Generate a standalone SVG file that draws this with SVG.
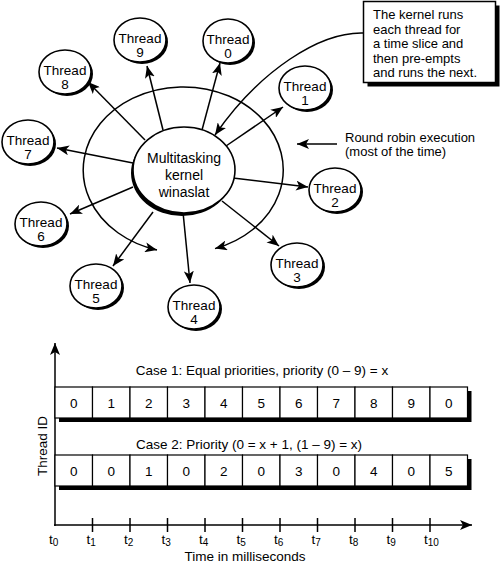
<svg xmlns="http://www.w3.org/2000/svg" width="500" height="564" viewBox="0 0 500 564">
<defs>
<marker id="ah" viewBox="0 0 12 10" refX="12" refY="5" markerWidth="12" markerHeight="10" markerUnits="userSpaceOnUse" orient="auto-start-reverse">
<path d="M0,0 L12,5 L0,10 L3,5 z" fill="#000"/>
</marker>
</defs>
<style>
text{font-family:"Liberation Sans",Arial,sans-serif;fill:#000}
.t{font-size:13.5px;text-anchor:middle}
.k{font-size:14px;text-anchor:middle}
.c{font-size:13px}
.sh{fill:#000}
.nd{fill:#fff;stroke:#000;stroke-width:1.6}
.ln{fill:none;stroke:#000;stroke-width:1.5}
.ar{fill:none;stroke:#000;stroke-width:1.5;marker-end:url(#ah)}
.cell{fill:#fff;stroke:#000;stroke-width:1.2}
.sub{font-size:10px}
</style>
<rect width="500" height="564" fill="#fff"/>

<g id="connectors">
<path class="ln" d="M157,250 A100,83 0 1 1 215,248.6" marker-start="url(#ah)" marker-end="url(#ah)"/>
<line class="ar" x1="163" y1="130" x2="147" y2="66"/>
<line class="ar" x1="202" y1="130" x2="220" y2="63"/>
<line class="ar" x1="145" y1="140" x2="88" y2="82"/>
<line class="ar" x1="133" y1="163" x2="57" y2="148"/>
<line class="ar" x1="226" y1="146" x2="283" y2="107"/>
<line class="ar" x1="233" y1="178" x2="308" y2="187"/>
<line class="ar" x1="222" y1="201" x2="279" y2="246"/>
<line class="ar" x1="183" y1="212" x2="190" y2="283"/>
<line class="ar" x1="153" y1="212" x2="113" y2="266"/>
<line class="ar" x1="133" y1="187" x2="70" y2="214"/>
<path class="ar" d="M363,33 C320,32 260,70 215,135"/>
<line class="ar" x1="337" y1="144" x2="297" y2="144"/>
</g>

<g id="kernel">
<ellipse class="sh" cx="182" cy="173" rx="51" ry="43"/>
<ellipse class="nd" cx="184" cy="170" rx="51" ry="43"/>
<text class="k" x="184" y="163">Multitasking</text>
<text class="k" x="184" y="180">kernel</text>
<text class="k" x="184" y="197">winaslat</text>
</g>

<g id="thread0">
<ellipse class="sh" cx="230" cy="43" rx="25" ry="22"/>
<ellipse class="nd" cx="228" cy="41" rx="25" ry="22"/>
<text class="t" x="228" y="44">Thread</text><text class="t" x="228" y="58">0</text>
</g>
<g id="thread1">
<ellipse class="sh" cx="307" cy="90" rx="26" ry="22"/>
<ellipse class="nd" cx="305" cy="88" rx="26" ry="22"/>
<text class="t" x="305" y="91">Thread</text><text class="t" x="305" y="105">1</text>
</g>
<g id="thread2">
<ellipse class="sh" cx="337" cy="192" rx="26" ry="22"/>
<ellipse class="nd" cx="335" cy="190" rx="26" ry="22"/>
<text class="t" x="335" y="193">Thread</text><text class="t" x="335" y="207">2</text>
</g>
<g id="thread3">
<ellipse class="sh" cx="299" cy="267" rx="26" ry="22"/>
<ellipse class="nd" cx="297" cy="265" rx="26" ry="22"/>
<text class="t" x="297" y="268">Thread</text><text class="t" x="297" y="282">3</text>
</g>
<g id="thread4">
<ellipse class="sh" cx="196" cy="309" rx="26" ry="22"/>
<ellipse class="nd" cx="194" cy="307" rx="26" ry="22"/>
<text class="t" x="194" y="310">Thread</text><text class="t" x="194" y="324">4</text>
</g>
<g id="thread5">
<ellipse class="sh" cx="98" cy="288" rx="26" ry="22"/>
<ellipse class="nd" cx="96" cy="286" rx="26" ry="22"/>
<text class="t" x="96" y="289">Thread</text><text class="t" x="96" y="303">5</text>
</g>
<g id="thread6">
<ellipse class="sh" cx="43" cy="226" rx="26" ry="22"/>
<ellipse class="nd" cx="41" cy="224" rx="26" ry="22"/>
<text class="t" x="41" y="227">Thread</text><text class="t" x="41" y="241">6</text>
</g>
<g id="thread7">
<ellipse class="sh" cx="30" cy="144" rx="26" ry="22"/>
<ellipse class="nd" cx="28" cy="142" rx="26" ry="22"/>
<text class="t" x="28" y="145">Thread</text><text class="t" x="28" y="159">7</text>
</g>
<g id="thread8">
<ellipse class="sh" cx="67" cy="74" rx="26" ry="22"/>
<ellipse class="nd" cx="65" cy="72" rx="26" ry="22"/>
<text class="t" x="65" y="75">Thread</text><text class="t" x="65" y="89">8</text>
</g>
<g id="thread9">
<ellipse class="sh" cx="142" cy="42" rx="26" ry="22"/>
<ellipse class="nd" cx="140" cy="40" rx="26" ry="22"/>
<text class="t" x="140" y="43">Thread</text><text class="t" x="140" y="57">9</text>
</g>

<g id="callout">
<rect class="sh" x="367.5" y="5.5" width="132" height="81"/>
<rect x="363.5" y="1.5" width="132" height="81" fill="#fff" stroke="#000" stroke-width="1.5"/>
<text class="c" x="373" y="19">The kernel runs</text>
<text class="c" x="373" y="33.5">each thread for</text>
<text class="c" x="373" y="48">a time slice and</text>
<text class="c" x="373" y="62.5">then pre-empts</text>
<text class="c" x="373" y="77">and runs the next.</text>
</g>

<g id="roundrobin-label">
<text class="c" x="345" y="142">Round robin execution</text>
<text class="c" x="345" y="156">(most of the time)</text>
</g>

<g id="chart">
<line class="ar" x1="55" y1="526" x2="55" y2="343"/>
<line class="ar" x1="54" y1="525" x2="472" y2="525"/>
<g stroke="#000" stroke-width="1.5">
<line x1="92.5" y1="518" x2="92.5" y2="532"/>
<line x1="130" y1="518" x2="130" y2="532"/>
<line x1="167.5" y1="518" x2="167.5" y2="532"/>
<line x1="205" y1="518" x2="205" y2="532"/>
<line x1="242.5" y1="518" x2="242.5" y2="532"/>
<line x1="280" y1="518" x2="280" y2="532"/>
<line x1="317.5" y1="518" x2="317.5" y2="532"/>
<line x1="355" y1="518" x2="355" y2="532"/>
<line x1="392.5" y1="518" x2="392.5" y2="532"/>
<line x1="430" y1="518" x2="430" y2="532"/>
</g>
<g font-size="13.5">
<text x="49" y="544">t<tspan class="sub" dy="2">0</tspan></text>
<text x="86.5" y="544">t<tspan class="sub" dy="2">1</tspan></text>
<text x="124" y="544">t<tspan class="sub" dy="2">2</tspan></text>
<text x="161.5" y="544">t<tspan class="sub" dy="2">3</tspan></text>
<text x="199" y="544">t<tspan class="sub" dy="2">4</tspan></text>
<text x="236.5" y="544">t<tspan class="sub" dy="2">5</tspan></text>
<text x="274" y="544">t<tspan class="sub" dy="2">6</tspan></text>
<text x="311.5" y="544">t<tspan class="sub" dy="2">7</tspan></text>
<text x="349" y="544">t<tspan class="sub" dy="2">8</tspan></text>
<text x="386.5" y="544">t<tspan class="sub" dy="2">9</tspan></text>
<text x="424" y="544">t<tspan class="sub" dy="2">10</tspan></text>
</g>
<text class="t" x="245" y="561">Time in milliseconds</text>
<text class="t" x="0" y="0" transform="translate(47,446) rotate(-90)">Thread ID</text>

<text class="t" x="262" y="375">Case 1: Equal priorities, priority (0 – 9) = x</text>
<rect class="sh" x="59" y="391" width="412.5" height="31"/>
<g>
<rect class="cell" x="55" y="387" width="37.5" height="31"/>
<rect class="cell" x="92.5" y="387" width="37.5" height="31"/>
<rect class="cell" x="130" y="387" width="37.5" height="31"/>
<rect class="cell" x="167.5" y="387" width="37.5" height="31"/>
<rect class="cell" x="205" y="387" width="37.5" height="31"/>
<rect class="cell" x="242.5" y="387" width="37.5" height="31"/>
<rect class="cell" x="280" y="387" width="37.5" height="31"/>
<rect class="cell" x="317.5" y="387" width="37.5" height="31"/>
<rect class="cell" x="355" y="387" width="37.5" height="31"/>
<rect class="cell" x="392.5" y="387" width="37.5" height="31"/>
<rect class="cell" x="430" y="387" width="37.5" height="31"/>
</g>
<g>
<text class="t" x="73.75" y="407.5">0</text>
<text class="t" x="111.25" y="407.5">1</text>
<text class="t" x="148.75" y="407.5">2</text>
<text class="t" x="186.25" y="407.5">3</text>
<text class="t" x="223.75" y="407.5">4</text>
<text class="t" x="261.25" y="407.5">5</text>
<text class="t" x="298.75" y="407.5">6</text>
<text class="t" x="336.25" y="407.5">7</text>
<text class="t" x="373.75" y="407.5">8</text>
<text class="t" x="411.25" y="407.5">9</text>
<text class="t" x="448.75" y="407.5">0</text>
</g>

<text class="t" x="249" y="449">Case 2: Priority (0 = x + 1, (1 – 9) = x)</text>
<rect class="sh" x="59" y="459" width="412.5" height="31"/>
<g>
<rect class="cell" x="55" y="455" width="37.5" height="31"/>
<rect class="cell" x="92.5" y="455" width="37.5" height="31"/>
<rect class="cell" x="130" y="455" width="37.5" height="31"/>
<rect class="cell" x="167.5" y="455" width="37.5" height="31"/>
<rect class="cell" x="205" y="455" width="37.5" height="31"/>
<rect class="cell" x="242.5" y="455" width="37.5" height="31"/>
<rect class="cell" x="280" y="455" width="37.5" height="31"/>
<rect class="cell" x="317.5" y="455" width="37.5" height="31"/>
<rect class="cell" x="355" y="455" width="37.5" height="31"/>
<rect class="cell" x="392.5" y="455" width="37.5" height="31"/>
<rect class="cell" x="430" y="455" width="37.5" height="31"/>
</g>
<g>
<text class="t" x="73.75" y="475.5">0</text>
<text class="t" x="111.25" y="475.5">0</text>
<text class="t" x="148.75" y="475.5">1</text>
<text class="t" x="186.25" y="475.5">0</text>
<text class="t" x="223.75" y="475.5">2</text>
<text class="t" x="261.25" y="475.5">0</text>
<text class="t" x="298.75" y="475.5">3</text>
<text class="t" x="336.25" y="475.5">0</text>
<text class="t" x="373.75" y="475.5">4</text>
<text class="t" x="411.25" y="475.5">0</text>
<text class="t" x="448.75" y="475.5">5</text>
</g>
</g>
</svg>
